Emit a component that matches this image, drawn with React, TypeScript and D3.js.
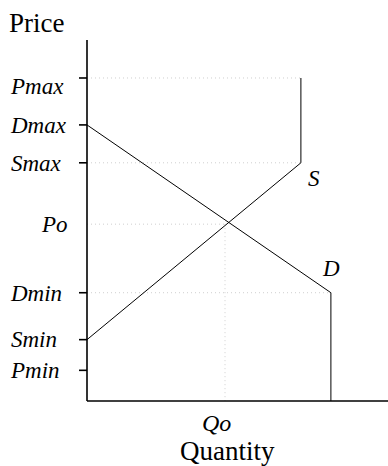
import React, { useEffect } from 'react';
import * as d3 from 'd3';

// price levels (arbitrary units, 0-100)
const priceNames = ['Pmax', 'Dmax', 'Smax', 'Po', 'Dmin', 'Smin', 'Pmin'];
const priceValues = [89.5, 76.5, 66, 49, 30, 17, 8.5];
const tickedNames = ['Pmax', 'Dmax', 'Smax', 'Dmin', 'Smin', 'Pmin'];

// quantities (0-100)
const qSupplyCap = 71.3;
const qDemandCap = 81.3;
const qEquilibrium = 46;

const P = (name: string) => priceValues[priceNames.indexOf(name)];

const supply: [number, number][] = [
  [0, P('Smin')],
  [qSupplyCap, P('Smax')],
  [qSupplyCap, P('Pmax')],
];
const demand: [number, number][] = [
  [0, P('Dmax')],
  [qDemandCap, P('Dmin')],
  [qDemandCap, 0],
];

// dotted drop lines: [price name, quantity it runs to]
const dropLines: [string, number][] = [
  ['Pmax', qSupplyCap],
  ['Smax', qSupplyCap],
  ['Po', qEquilibrium],
  ['Dmin', qDemandCap],
];

const width = 388, height = 466;
const margin = { top: 40, right: 0, bottom: 65, left: 87 };

export default function App() {
  useEffect(() => {
    document.body.style.margin = '0';
  }, []);

  const x = d3.scaleLinear().domain([0, 100]).range([margin.left, margin.left + 300]);
  const y = d3.scaleLinear().domain([0, 100]).range([height - margin.bottom, margin.top + 0.1]);
  const line = d3.line<[number, number]>().x(d => x(d[0])).y(d => y(d[1]));

  const serif = '"Liberation Serif", "Times New Roman", serif';
  const x0 = x(0), y0 = y(0);

  return (
    <svg width={width} height={height} style={{ display: 'block' }} fontFamily={serif}>
      {/* drop lines */}
      <g stroke="#cfcfcf" strokeDasharray="1,3" strokeWidth={1}>
        {dropLines.map(([n, q]) => (
          <line key={n} x1={x0} x2={x(q)} y1={y(P(n))} y2={y(P(n))} />
        ))}
        <line x1={x(qEquilibrium)} x2={x(qEquilibrium)} y1={y(P('Po'))} y2={y0} />
      </g>

      {/* curves */}
      <path d={line(supply) || ''} fill="none" stroke="#000" strokeWidth={1} />
      <path d={line(demand) || ''} fill="none" stroke="#000" strokeWidth={1} />

      {/* axes */}
      <line x1={x0} x2={x0} y1={margin.top} y2={y0} stroke="#000" strokeWidth={1.6} />
      <line x1={x0} x2={width} y1={y0} y2={y0} stroke="#000" strokeWidth={1.6} />
      {tickedNames.map(n => (
        <line key={n} x1={x0 - 8} x2={x0} y1={y(P(n))} y2={y(P(n))} stroke="#000" strokeWidth={1.6} />
      ))}

      {/* price labels */}
      {priceNames.map(n => (
        <text
          key={n}
          x={n === 'Po' ? 42 : 11}
          y={y(P(n)) + (n === 'Pmax' ? 8 : 0)}
          dy="0.34em"
          fontSize={23}
          fontStyle="italic"
        >
          {n}
        </text>
      ))}

      <text x={x(qSupplyCap) + 7} y={y(P('Smax')) + 23} fontSize={23} fontStyle="italic">S</text>
      <text x={x(qDemandCap) - 8} y={y(P('Dmin')) - 17} fontSize={23} fontStyle="italic">D</text>

      <text x={202} y={431} fontSize={24} fontStyle="italic">Qo</text>
      <text x={9} y={32} fontSize={27}>Price</text>
      <text x={180} y={460} fontSize={27}>Quantity</text>
    </svg>
  );
}
